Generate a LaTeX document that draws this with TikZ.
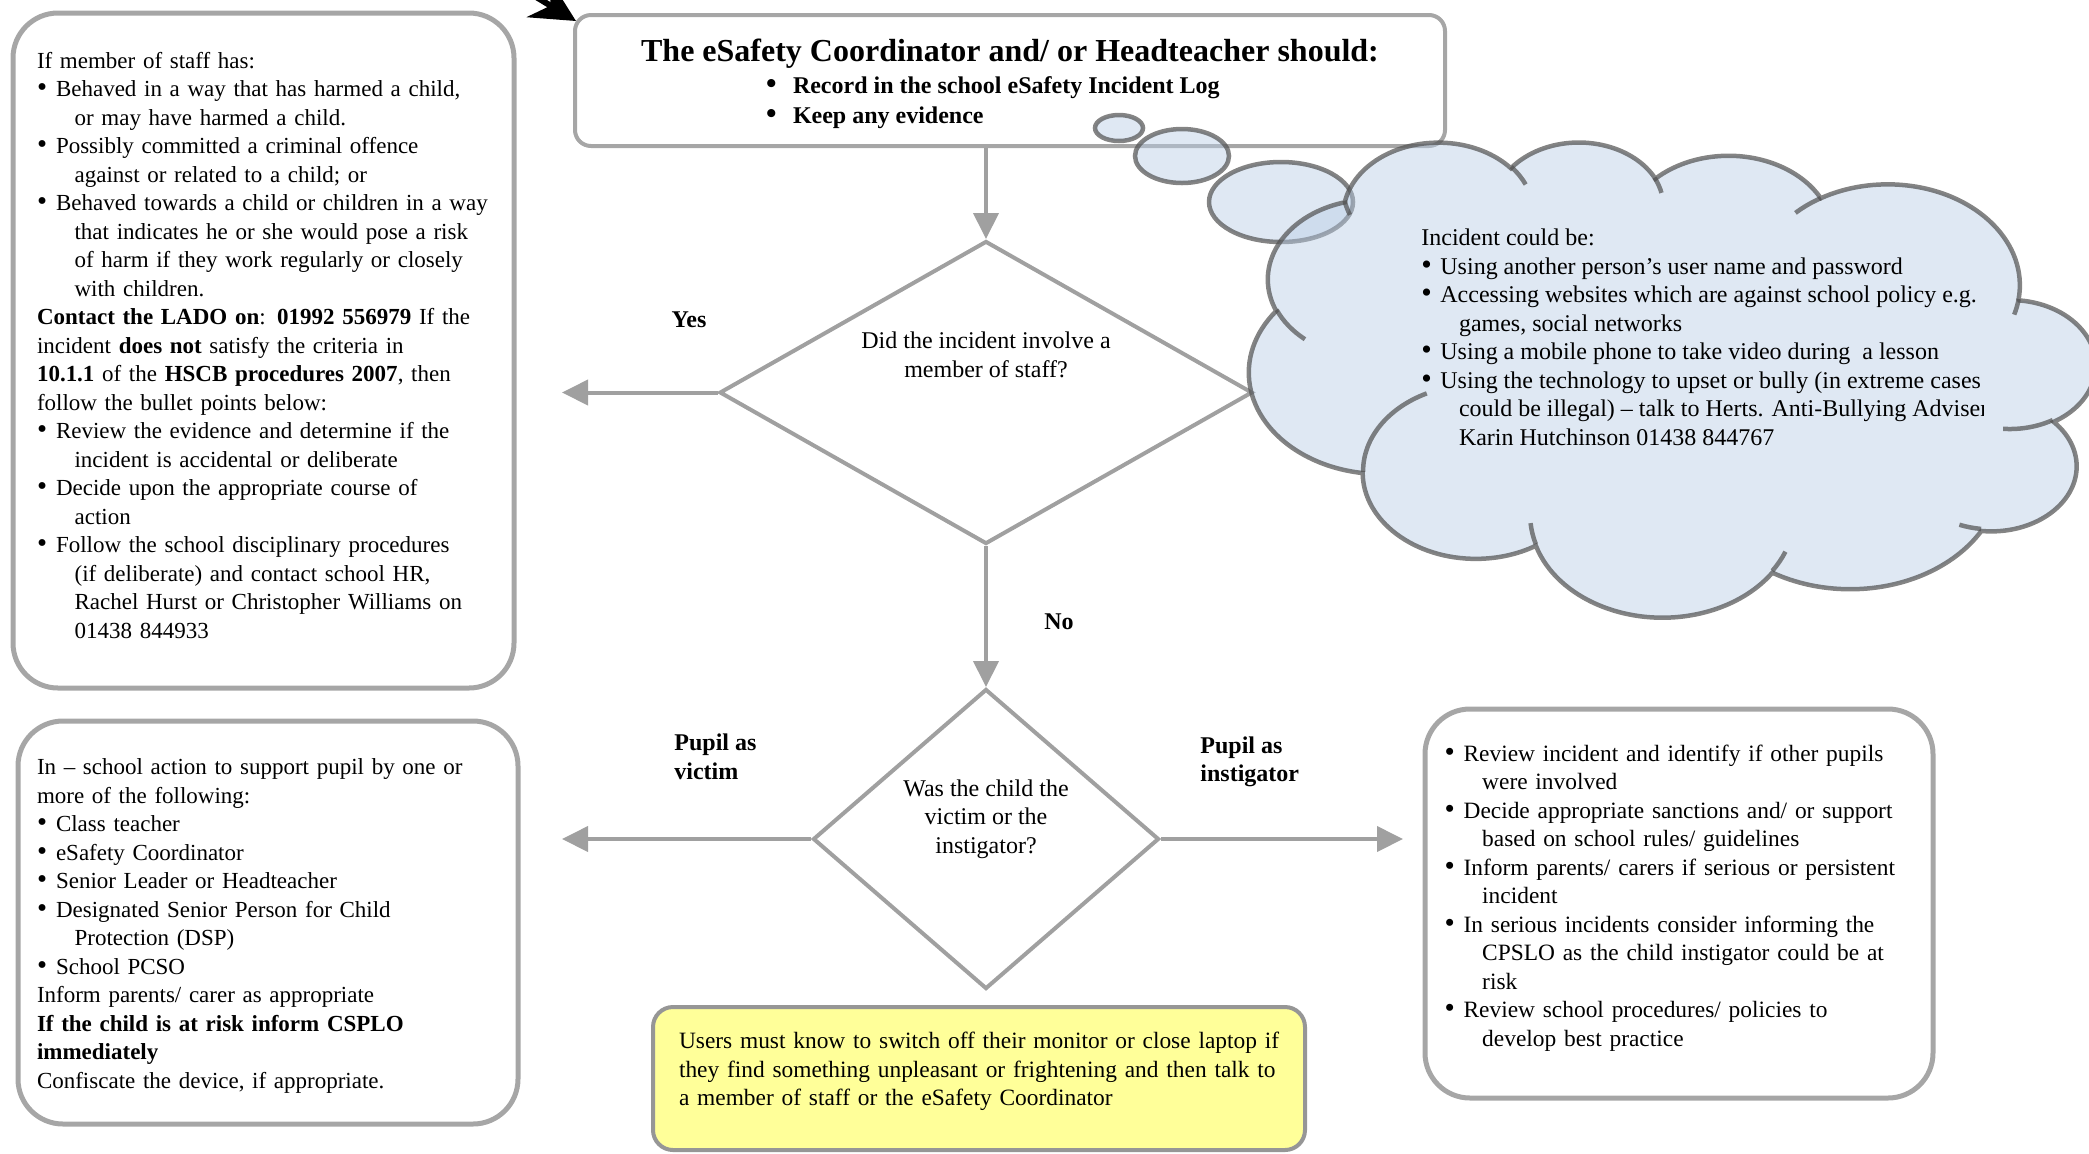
\documentclass[tikz,border=0pt]{standalone}
\usepackage{fontspec}
\usepackage{graphicx}
\setmainfont{Liberation Serif}
\usetikzlibrary{arrows.meta,shapes.geometric,calc}
\definecolor{boxgray}{RGB}{166,166,166}
\definecolor{linegray}{RGB}{160,160,160}
\definecolor{notegray}{RGB}{150,150,150}
\definecolor{notefill}{RGB}{255,255,153}
\definecolor{cloudfill}{RGB}{185,205,229}
\definecolor{cloudline}{RGB}{80,80,80}
\setlength{\parindent}{0pt}
\begin{document}
\begin{tikzpicture}[x=0.5pt,y=-0.5pt,
  every node/.style={font=\fontsize{12}{14.25}\selectfont},
  infobox/.style={draw=boxgray,line width=2.5pt,rounded corners=22.5pt,align=left,inner sep=0pt},
  headbox/.style={draw=boxgray,line width=2pt,rounded corners=8pt,align=center,inner sep=0pt,font=\fontsize{12}{14.25}\selectfont\bfseries},
  notebox/.style={draw=notegray,line width=2pt,rounded corners=10pt,fill=notefill,align=left,inner sep=0pt},
  decision/.style={diamond,draw=linegray,line width=2pt,inner sep=0pt,align=center},
  answer/.style={inner sep=0pt,font=\fontsize{12}{14.25}\selectfont\bfseries},
  arr/.style={draw=linegray,line width=2pt,-{Triangle[length=13pt,width=12.5pt]}},
  puff/.style={draw=cloudline,draw opacity=0.7,line width=2.25pt,fill=cloudfill,fill opacity=0.45},
  puffline/.style={draw=cloudline,draw opacity=0.7,line width=2.25pt}]
\def\dot{\scalebox{1.25}{\textbullet}}
\def\itm{\makebox[9.5pt][l]{\dot}}
\def\cnt{\hspace*{18.8pt}}
\def\low#1{\rule[-#1]{0pt}{#1}}
\useasboundingbox (0,0) rectangle (2089,1153);
\clip (0,0) rectangle (2089,1153);

\coordinate (yesend) at (562,392.5);
\coordinate (victimend) at (562,839);
\coordinate (instend) at (1403,839);
\coordinate (incoming) at (319,-134);

\node[infobox,minimum width=250.5pt,minimum height=337.5pt,text width=226.5pt,font=\fontsize{11.5}{14.25}\selectfont] (staff) at (263.5,350.5) {If member of staff has:\\
\itm Behaved in a way that has harmed a child,\\
\cnt or may have harmed a child.\\
\itm Possibly committed a criminal offence\\
\cnt against or related to a child; or\\
\itm Behaved towards a child or children in a way\\
\cnt that indicates he or she would pose a risk\\
\cnt of harm if they work regularly or closely\\
\cnt with children.\\
\textbf{Contact the LADO on}: \textbf{01992 556979} If the\\
incident \textbf{does not} satisfy the criteria in\\
\textbf{10.1.1} of the \textbf{HSCB procedures 2007}, then\\
follow the bullet points below:\\
\itm Review the evidence and determine if the\\
\cnt incident is accidental or deliberate\\
\itm Decide upon the appropriate course of\\
\cnt action\\
\itm Follow the school disciplinary procedures\\
\cnt (if deliberate) and contact school HR,\\
\cnt Rachel Hurst or Christopher Williams on\\
\cnt 01438 844933\low{5.5pt}};

\node[infobox,minimum width=250pt,minimum height=201.5pt,text width=231pt,font=\fontsize{11.5}{14.25}\selectfont] (pupil) at (268,922.5) {\rule{0pt}{11.2pt}In – school action to support pupil by one or\\
more of the following:\\
\itm Class teacher\\
\itm eSafety Coordinator\\
\itm Senior Leader or Headteacher\\
\itm Designated Senior Person for Child\\
\cnt Protection (DSP)\\
\itm School PCSO\\
Inform parents/ carer as appropriate\\
\textbf{If the child is at risk inform CSPLO}\\
\textbf{immediately}\\
Confiscate the device, if appropriate.};

\node[infobox,minimum width=254pt,minimum height=194.5pt,text width=234.4pt,font=\fontsize{11.7}{14.25}\selectfont] (action) at (1679,903.5) {\itm Review incident and identify if other pupils\\
\cnt were involved\\
\itm Decide appropriate sanctions and/ or support\\
\cnt based on school rules/ guidelines\\
\itm Inform parents/ carers if serious or persistent\\
\cnt incident\\
\itm In serious incidents consider informing the\\
\cnt CPSLO as the child instigator could be at\\
\cnt risk\\
\itm Review school procedures/ policies to\\
\cnt develop best practice\low{8.1pt}};

\node[notebox,minimum width=326pt,minimum height=71.5pt,text width=300pt,font=\fontsize{11.7}{14.25}\selectfont] (note) at (979,1078.5) {\mbox{Users must know to switch off their monitor or close laptop if}\\
\mbox{they find something unpleasant or frightening and then talk to}\\
a member of staff or the eSafety Coordinator\low{9.6pt}};

\node[headbox,minimum width=435pt,minimum height=65.5pt] (top) at (1010,80.5) {{\fontsize{16}{19}\selectfont\rule{0pt}{14.4pt}The eSafety Coordinator and/ or Headteacher should:}\\[1.5pt]
\parbox[t]{244pt}{\fontsize{12}{15}\selectfont\makebox[13.5pt][l]{\dot}Record in the school eSafety Incident Log\\
\makebox[13.5pt][l]{\dot}Keep any evidence}};

\node[decision,aspect=1.76,minimum width=266.5pt,minimum height=151.5pt] (q1) at (986,392.5) {Did the incident involve a\\member of staff?\low{37.7pt}};
\node[decision,aspect=1.15,minimum width=173pt,minimum height=150pt] (q2) at (986,839) {Was the child the\\victim or the\\instigator?\low{22.6pt}};

\node[answer] (yes) at (689,320) {Yes};
\node[answer] (no) at (1059,622) {No};
\node[answer,anchor=west,align=left] (victim) at (674,757) {Pupil as\\victim};
\node[answer,anchor=west,align=left] (instigator) at (1200,762) {Pupil as\\instigator};

\draw[arr] (q1.north |- top.south) -- (q1.north);
\draw[arr] (q1.west) -- (yesend);
\draw[arr] (q1.south) -- (q2.north);
\draw[arr] (q2.west) -- (victimend);
\draw[arr] (q2.east) -- (instend);
\draw[black,line width=3pt,-{Stealth[length=22pt,width=22pt]}] (incoming) -- ($(top.north west)+(3,8)$);

\path[puff] (1119,128) ellipse [x radius=24,y radius=13];
\path[puff] (1182,156) ellipse [x radius=47,y radius=27];
\path[puff] (1281,202) ellipse [x radius=72,y radius=40];

\begin{scope}[shift={(2095,141)},xscale=-1.958,yscale=1.0995]
\path[puff] (39.00,143.70)
  arc[start angle=-187.75,delta angle=128.11,x radius=67.53,y radius=91.90]
  arc[start angle=-152.03,delta angle=106.57,x radius=53.33,y radius=72.67]
  arc[start angle=-153.49,delta angle=116.16,x radius=43.65,y radius=59.45]
  arc[start angle=-139.71,delta angle=129.50,x radius=48.57,y radius=65.95]
  arc[start angle=-74.77,delta angle=97.97,x radius=53.33,y radius=72.73]
  arc[start angle=-37.53,delta angle=119.39,x radius=67.75,y radius=92.20]
  arc[start angle=0.46,delta angle=121.52,x radius=57.85,y radius=78.67]
  arc[start angle=16.85,delta angle=129.39,x radius=67.52,y radius=92.15]
  arc[start angle=58.99,delta angle=91.20,x radius=77.20,y radius=105.43]
  arc[start angle=-276.69,delta angle=139.80,x radius=43.60,y radius=59.18]
  arc[start angle=-239.65,delta angle=143.76,x radius=43.45,y radius=59.45]
  -- cycle;
\path[puffline]
  (46.93,261.77) arc[start angle=85.55,delta angle=34.81,x radius=43.45,y radius=59.45]
  (69.28,348.99) arc[start angle=68.24,delta angle=15.07,x radius=43.60,y radius=59.18]
  (164.78,390.90) arc[start angle=146.24,delta angle=12.24,x radius=67.52,y radius=92.15]
  (288.27,347.51) arc[start angle=4.74,delta angle=12.11,x radius=67.52,y radius=92.15]
  (341.29,229.54) arc[start angle=-64.03,delta angle=64.48,x radius=57.85,y radius=78.67]
  (417.98,153.54) arc[start angle=23.20,delta angle=26.44,x radius=53.33,y radius=72.73]
  (383.24,54.26) arc[start angle=10.21,delta angle=11.67,x radius=48.57,y radius=65.95]
  (290.78,39.52) arc[start angle=-156.27,delta angle=16.55,x radius=48.57,y radius=65.95]
  (221.41,47.20) arc[start angle=-167.73,delta angle=14.24,x radius=43.65,y radius=59.45]
  (140.00,51.92) arc[start angle=-59.64,delta angle=13.90,x radius=67.53,y radius=91.90]
  (41.27,157.89) arc[start angle=163.19,delta angle=9.06,x radius=67.53,y radius=91.90];
\end{scope}

\begin{scope}
\clip (1250,150) rectangle (1983,500);
\node[anchor=north west,align=left,inner sep=0pt] (cloudtext) at (1421,228.6) {Incident could be:\\
\itm Using another person’s user name and password\\
\itm Accessing websites which are against school policy e.g.\\
\cnt games, social networks\\
\itm Using a mobile phone to take video during\ \ a lesson\\
\itm Using the technology to upset or bully (in extreme cases\\
\cnt could be illegal) – talk to Herts. Anti-Bullying Adviser\\
\cnt Karin Hutchinson 01438 844767};
\end{scope}
\end{tikzpicture}
\end{document}
